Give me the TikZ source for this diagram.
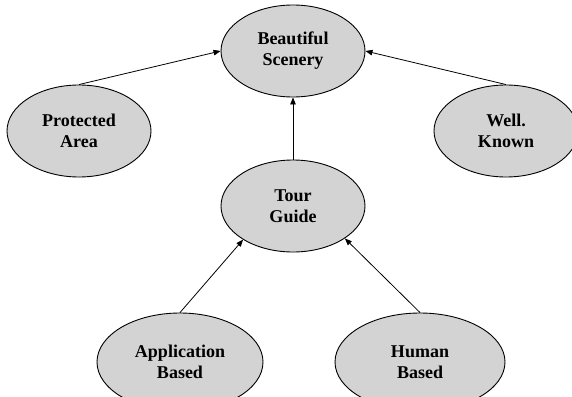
\documentclass[tikz,border=0pt]{standalone}
\usepackage{fontspec}
\setmainfont{Liberation Serif}
\usetikzlibrary{shapes.geometric,arrows.meta}
\definecolor{nodegray}{RGB}{211,211,211}
\begin{document}
\begin{tikzpicture}[x=1pt,y=-1pt,
  oval/.style={ellipse, draw=black, line width=0.9pt, fill=nodegray, inner sep=0pt,
    minimum width=144pt, minimum height=92pt, align=center,
    font=\fontsize{18}{21}\selectfont\bfseries},
  bigoval/.style={oval, minimum width=166pt, minimum height=98pt},
  link/.style={draw=black, line width=0.8pt, -{Triangle[length=7pt,width=5.5pt]}}]
\useasboundingbox (0,0) rectangle (572,396);
\clip (0,0) rectangle (572,396);
\node[oval] (bs) at (293,51) {Beautiful\\Scenery};
\node[oval] (pa) at (79,131) {Protected\\Area};
\node[oval] (wk) at (506,131) {Well.\\Known};
\node[oval] (tg) at (293,206) {Tour\\Guide};
\node[bigoval] (ab) at (180,362) {Application\\Based};
\node[bigoval, minimum width=170pt] (hb) at (420,362) {Human\\Based};
\draw[link] (pa.north) -- (bs.west);
\draw[link] (wk.north) -- (bs.east);
\draw[link] (tg.north) -- (bs.south);
\draw[link] (ab.north) -- (tg.214);
\draw[link] (hb.north) -- (tg.328);
\end{tikzpicture}
\end{document}
